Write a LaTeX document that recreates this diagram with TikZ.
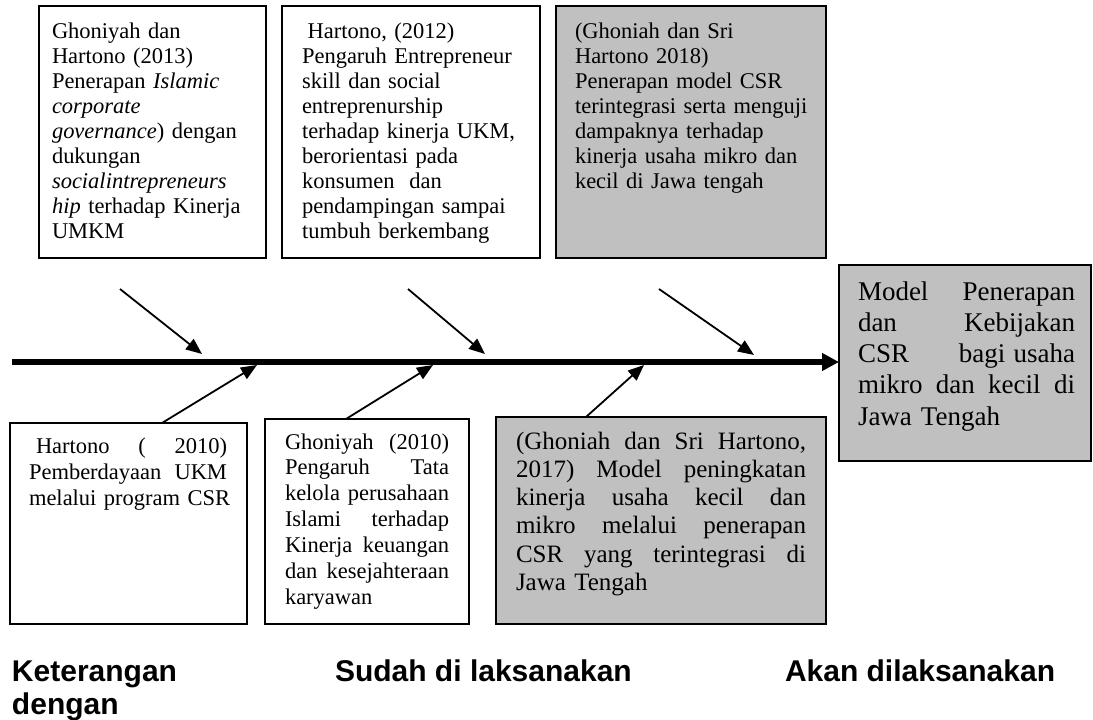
\documentclass[tikz,border=0pt]{standalone}
\usepackage{fontspec}
\setmainfont{Liberation Serif}
\setsansfont{Liberation Sans}
\usetikzlibrary{arrows.meta}
\definecolor{boxgrey}{RGB}{192,192,192}
\newcommand\justline[1]{\hbox to \linewidth{#1}\par}
\begin{document}
\begin{tikzpicture}[x=1pt,y=-1pt,
  box/.style={draw=black, line width=1.4pt, fill=white, rectangle, inner sep=0pt, outer sep=0pt, anchor=north west},
  greybox/.style={box, fill=boxgrey},
  txt/.style={anchor=base west, inner sep=0pt, outer sep=0pt, align=left, font=\fontsize{22.5}{25.1}\selectfont},
  conn/.style={line width=1.8pt, -{Triangle[length=16pt,width=13pt]}},
  spine/.style={line width=6pt, -{Triangle[length=17pt,width=17pt]}},
  legend/.style={anchor=base west, inner sep=0pt, outer sep=0pt, align=left, font=\fontsize{30}{33}\selectfont\sffamily\bfseries}
]
\useasboundingbox (0,0) rectangle (1093,720);

% top boxes
\node[box, minimum width=227pt, minimum height=252pt] (t1) at (39,6) {};
\node[box, minimum width=258pt, minimum height=252pt] (t2) at (282,6) {};
\node[greybox, minimum width=270pt, minimum height=252pt] (t3) at (556,6) {};
% right box
\node[greybox, minimum width=252pt, minimum height=196pt] (rbox) at (839,265) {};
% bottom boxes
\node[box, minimum width=237pt, minimum height=201pt] (b1) at (10,423) {};
\node[box, minimum width=204pt, minimum height=205pt] (b2) at (265,419) {};
\node[greybox, minimum width=330pt, minimum height=207pt] (b3) at (496,417) {};

% texts
\node[txt, text width=212pt] (t1txt) at (52,38) {Ghoniyah dan\\Hartono (2013)\\Penerapan \textit{Islamic}\\\textit{corporate}\\\textit{governance}) dengan\\dukungan\\\textit{socialintrepreneurs}\\\textit{hip} terhadap Kinerja\\UMKM};
\node[txt, text width=235pt] (t2txt) at (302,38) {\hspace*{0.25em}Hartono, (2012)\\Pengaruh Entrepreneur\\skill dan social\\entreprenurship\\terhadap kinerja UKM,\\berorientasi pada\\konsumen~ dan\\pendampingan sampai\\tumbuh berkembang};
\node[txt, text width=248pt] (t3txt) at (575,38) {(Ghoniah dan Sri\\Hartono 2018)\\Penerapan model CSR\\terintegrasi serta menguji\\dampaknya terhadap\\kinerja usaha mikro dan\\kecil di Jawa tengah};

\node[txt, text width=217pt, font=\fontsize{27}{31.3}\selectfont] (rtxt) at (858,300) {\justline{Model\hfill Penerapan}\justline{dan\hfill Kebijakan}\justline{CSR\hfill bagi\hspace{0.3em}usaha}\justline{mikro\hfill dan\hfill kecil\hfill di}\mbox{Jawa Tengah}};

\node[txt, text width=198pt, font=\fontsize{22.5}{25.8}\selectfont] (b1txt) at (29,453.5) {\justline{\hspace*{7pt}Hartono\hfill(\hfill2010)}\justline{Pemberdayaan\hfill UKM}\mbox{melalui program CSR}};
\node[txt, text width=164pt, font=\fontsize{22.5}{25.9}\selectfont] (b2txt) at (285,449) {\justline{Ghoniyah\hfill(2010)}\justline{Pengaruh\hfill Tata}\justline{kelola\hfill perusahaan}\justline{Islami\hfill terhadap}\justline{Kinerja\hfill keuangan}\justline{dan\hfill kesejahteraan}\mbox{karyawan}};
\node[txt, text width=290pt, font=\fontsize{25}{28.3}\selectfont] (b3txt) at (516,449) {\justline{(Ghoniah\hfill dan\hfill Sri\hfill Hartono,}\justline{2017)\hfill Model\hfill peningkatan}\justline{kinerja\hfill usaha\hfill kecil\hfill dan}\justline{mikro\hfill melalui\hfill penerapan}\justline{CSR\hfill yang\hfill terintegrasi\hfill di}\mbox{Jawa Tengah}};

% spine
\coordinate (spL) at (12,362);
\draw[spine] (spL) -- (spL -| rbox.west);

% top arrows
\coordinate (a1s) at (120,289); \coordinate (a1e) at (202,354);
\coordinate (a2s) at (408,289); \coordinate (a2e) at (485,354);
\coordinate (a3s) at (659,289); \coordinate (a3e) at (754,355);
\draw[conn] (a1s) -- (a1e);
\draw[conn] (a2s) -- (a2e);
\draw[conn] (a3s) -- (a3e);

% bottom arrows
\coordinate (c1s) at (162,423); \coordinate (c1e) at (257,365);
\coordinate (c2s) at (346,419); \coordinate (c2e) at (433,365);
\coordinate (c3s) at (586,417); \coordinate (c3e) at (644,365);
\draw[conn] (c1s) -- (c1e);
\draw[conn] (c2s) -- (c2e);
\draw[conn] (c3s) -- (c3e);

% legend
\node[legend, text width=220pt] (leg1) at (12,681) {Keterangan\\dengan};
\node[legend] (leg2) at (335,681) {Sudah di laksanakan};
\node[legend] (leg3) at (785,681) {Akan dilaksanakan};
\end{tikzpicture}
\end{document}
